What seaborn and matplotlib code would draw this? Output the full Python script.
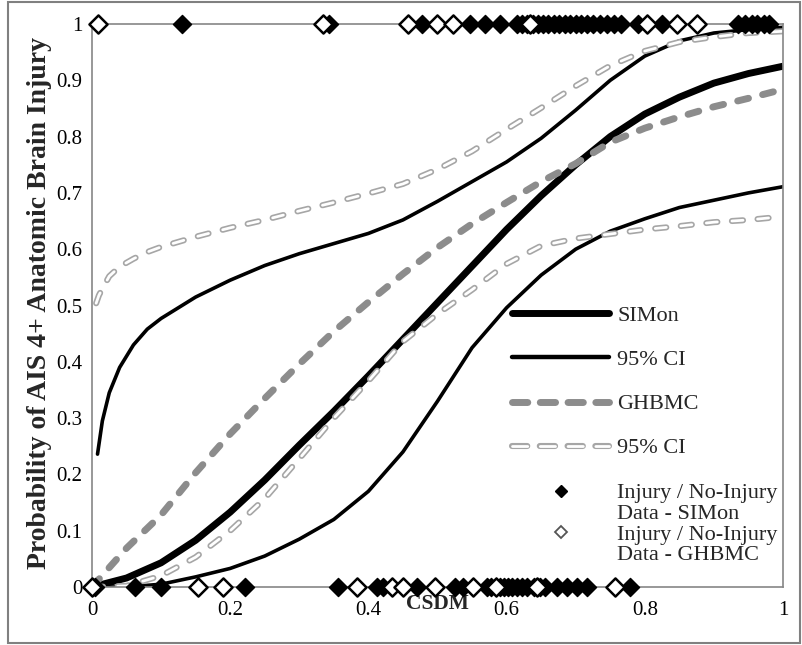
import numpy as np
import pandas as pd
import matplotlib
matplotlib.use("Agg")
import matplotlib.pyplot as plt
import matplotlib.patches as patches
from matplotlib.lines import Line2D
import seaborn as sns

# ---------------- data ----------------
CSDM = [0.0, 0.05, 0.10, 0.15, 0.20, 0.25, 0.30, 0.35, 0.40, 0.45, 0.50,
        0.55, 0.60, 0.65, 0.70, 0.75, 0.80, 0.85, 0.90, 0.95, 1.00]

SIMON = [0.0, 0.016, 0.043, 0.083, 0.133, 0.19, 0.252, 0.312, 0.375, 0.44, 0.505,
         0.57, 0.635, 0.695, 0.75, 0.80, 0.84, 0.87, 0.895, 0.912, 0.925]
SIMON_LO = [0.0, 0.0, 0.005, 0.018, 0.033, 0.055, 0.085, 0.12, 0.17, 0.24, 0.33,
            0.425, 0.496, 0.554, 0.60, 0.632, 0.654, 0.674, 0.687, 0.70, 0.711]
SIMON_HI_X = [0.008, 0.015, 0.025, 0.04, 0.06, 0.08, 0.10, 0.15, 0.20, 0.25, 0.30, 0.35, 0.40,
              0.45, 0.50, 0.55, 0.60, 0.65, 0.70, 0.75, 0.80, 0.85, 0.90, 0.95, 1.00]
SIMON_HI = [0.236, 0.295, 0.345, 0.39, 0.43, 0.458, 0.477, 0.515, 0.545, 0.571, 0.592, 0.61, 0.628,
            0.652, 0.685, 0.72, 0.755, 0.797, 0.847, 0.90, 0.943, 0.97, 0.984, 0.99, 0.994]

GHBMC = [0.0, 0.069, 0.128, 0.203, 0.272, 0.335, 0.396, 0.454, 0.506, 0.556, 0.603,
         0.645, 0.683, 0.72, 0.752, 0.79, 0.815, 0.835, 0.853, 0.868, 0.884]
GHBMC_LO = [0.0, 0.002, 0.02, 0.053, 0.10, 0.157, 0.228, 0.30, 0.366, 0.436, 0.485,
            0.528, 0.574, 0.606, 0.619, 0.627, 0.635, 0.641, 0.648, 0.652, 0.658]
GHBMC_HI_X = [0.006, 0.01, 0.015, 0.025, 0.04, 0.06, 0.08, 0.10, 0.15, 0.20, 0.25, 0.30, 0.35,
              0.40, 0.45, 0.50, 0.55, 0.60, 0.65, 0.70, 0.75, 0.80, 0.85, 0.90, 0.95, 1.00]
GHBMC_HI = [0.504, 0.518, 0.53, 0.552, 0.569, 0.583, 0.595, 0.604, 0.622, 0.638, 0.652, 0.668, 0.683,
            0.699, 0.716, 0.742, 0.774, 0.813, 0.851, 0.89, 0.926, 0.952, 0.968, 0.977, 0.984, 0.987]

SIMON_INJURY_X = [0.130, 0.343, 0.478, 0.547, 0.569, 0.590, 0.615, 0.622, 0.630, 0.638, 0.645,
                  0.652, 0.660, 0.668, 0.676, 0.684, 0.692, 0.700, 0.708, 0.716, 0.725, 0.735,
                  0.745, 0.755, 0.766, 0.790, 0.825, 0.935, 0.945, 0.955, 0.963, 0.972, 0.980]
SIMON_NOINJURY_X = [0.0, 0.004, 0.062, 0.100, 0.153, 0.221, 0.356, 0.412, 0.421, 0.470, 0.525,
                    0.537, 0.572, 0.578, 0.584, 0.590, 0.596, 0.602, 0.608, 0.615, 0.622, 0.630,
                    0.640, 0.648, 0.656, 0.673, 0.687, 0.702, 0.716, 0.779]
GHBMC_INJURY_X = [0.009, 0.334, 0.457, 0.500, 0.522, 0.634, 0.803, 0.847, 0.876]
GHBMC_NOINJURY_X = [0.0, 0.153, 0.190, 0.383, 0.434, 0.450, 0.496, 0.551, 0.585, 0.644, 0.757]

Y_TICKS = [0, 0.1, 0.2, 0.3, 0.4, 0.5, 0.6, 0.7, 0.8, 0.9, 1]
Y_TICKLABELS = ["0", "0.1", "0.2", "0.3", "0.4", "0.5", "0.6", "0.7", "0.8", "0.9", "1"]
X_TICKS = [0, 0.2, 0.4, 0.6, 0.8, 1]
X_TICKLABELS = ["0", "0.2", "0.4", "0.6", "0.8", "1"]

# ---------------- style ----------------
sns.set_style("white")
plt.rcParams["font.family"] = ["Liberation Serif", "DejaVu Serif"]
plt.rcParams["lines.scale_dashes"] = False

fig = plt.figure(figsize=(8.02, 6.45), dpi=100)
ax = fig.add_axes([0.1147, 0.0899, 0.8616, 0.8729])

GRAY_DASH = "#8c8c8c"
GRAY_EDGE = "#a6a6a6"
DASH = (0, (8.0, 10.5))

def curve(x, y, **kw):
    df = pd.DataFrame({"x": x, "y": y})
    sns.lineplot(data=df, x="x", y="y", ax=ax, estimator=None, sort=True,
                 legend=False, **kw)

# SIMon curves
curve(CSDM, SIMON, color="black", linewidth=5.0, solid_capstyle="butt", zorder=2)
curve(CSDM, SIMON_LO, color="black", linewidth=2.6, zorder=2)
curve(SIMON_HI_X, SIMON_HI, color="black", linewidth=2.6, zorder=2)
# GHBMC curve
curve(CSDM, GHBMC, color=GRAY_DASH, linewidth=5.0, linestyle=DASH,
      dash_capstyle="round", zorder=2)
# GHBMC hollow CI
for xs, ys in [(CSDM, GHBMC_LO), (GHBMC_HI_X, GHBMC_HI)]:
    curve(xs, ys, color=GRAY_EDGE, linewidth=4.4, linestyle=DASH,
          dash_capstyle="round", zorder=2)
    curve(xs, ys, color="white", linewidth=2.0, linestyle=DASH,
          dash_capstyle="round", zorder=2.1)

# data points
MS = 85
sns.scatterplot(x=SIMON_INJURY_X, y=[1] * len(SIMON_INJURY_X), ax=ax, marker="D", s=MS,
                color="black", edgecolor="black", linewidth=1.0, clip_on=False, zorder=3)
sns.scatterplot(x=SIMON_NOINJURY_X, y=[0] * len(SIMON_NOINJURY_X), ax=ax, marker="D", s=MS,
                color="black", edgecolor="black", linewidth=1.0, clip_on=False, zorder=3)
sns.scatterplot(x=GHBMC_INJURY_X, y=[1] * len(GHBMC_INJURY_X), ax=ax, marker="D", s=MS,
                color="white", edgecolor="black", linewidth=1.8, clip_on=False, zorder=4)
sns.scatterplot(x=GHBMC_NOINJURY_X, y=[0] * len(GHBMC_NOINJURY_X), ax=ax, marker="D", s=MS,
                color="white", edgecolor="black", linewidth=1.8, clip_on=False, zorder=4)

# axes
ax.set_xlim(0, 1)
ax.set_ylim(0, 1)
ax.set_xticks(X_TICKS)
ax.set_xticklabels(X_TICKLABELS)
ax.set_yticks(Y_TICKS)
ax.set_yticklabels(Y_TICKLABELS)
ax.tick_params(axis="both", direction="out", length=4, width=1, color="#868686",
               labelsize=15, labelcolor="black")
ax.tick_params(axis="x", pad=6)
ax.tick_params(axis="y", pad=3)
for sp in ax.spines.values():
    sp.set_color("#868686")
    sp.set_linewidth(1.2)
ax.set_xlabel("CSDM", fontsize=15.5, fontweight="bold")
ax.xaxis.set_label_coords(0.5, -0.012)
ax.set_ylabel("Probability of AIS 4+ Anatomic Brain Injury", fontsize=20,
              fontweight="bold")
ax.yaxis.set_label_coords(-0.058, 0.505)

# legend (lines)
LDASH = (0, (11, 9))
h_lines = [
    Line2D([], [], color="black", linewidth=5.0, solid_capstyle="round"),
    Line2D([], [], color="black", linewidth=3.2, solid_capstyle="round"),
    Line2D([], [], color=GRAY_DASH, linewidth=5.0, linestyle=LDASH, dash_capstyle="round"),
    (Line2D([], [], color=GRAY_EDGE, linewidth=4.4, linestyle=LDASH, dash_capstyle="round"),
     Line2D([], [], color="white", linewidth=2.0, linestyle=LDASH, dash_capstyle="round")),
]
leg1 = ax.legend(h_lines, ["SIMon", "95% CI", "GHBMC", "95% CI"], loc="upper left",
                 bbox_to_anchor=(0.608, 0.50), frameon=False, fontsize=16,
                 handlelength=4.37, handletextpad=0.36, labelspacing=1.06,
                 borderpad=0, borderaxespad=0)
ax.add_artist(leg1)

blank = Line2D([], [], linestyle="none", marker=None)
h_pts = [
    Line2D([], [], linestyle="none", marker="D", markersize=6, color="black"),
    blank,
    Line2D([], [], linestyle="none", marker="D", markersize=6, markerfacecolor="white",
           markeredgecolor="#555555", markeredgewidth=1.3),
    blank,
]
leg2 = ax.legend(h_pts, ["Injury / No-Injury", "Data - SIMon", "Injury / No-Injury",
                         "Data - GHBMC"], loc="upper left", bbox_to_anchor=(0.608, 0.185),
                 frameon=False, fontsize=16, handlelength=4.37, handletextpad=0.36,
                 labelspacing=0.0, borderpad=0, borderaxespad=0)

# outer image border
fig.patches.append(patches.Rectangle((0.010, 0.003), 0.988, 0.994, transform=fig.transFigure,
                                     fill=False, edgecolor="#808080", linewidth=1.5))

fig.savefig("out.png", dpi=100)
